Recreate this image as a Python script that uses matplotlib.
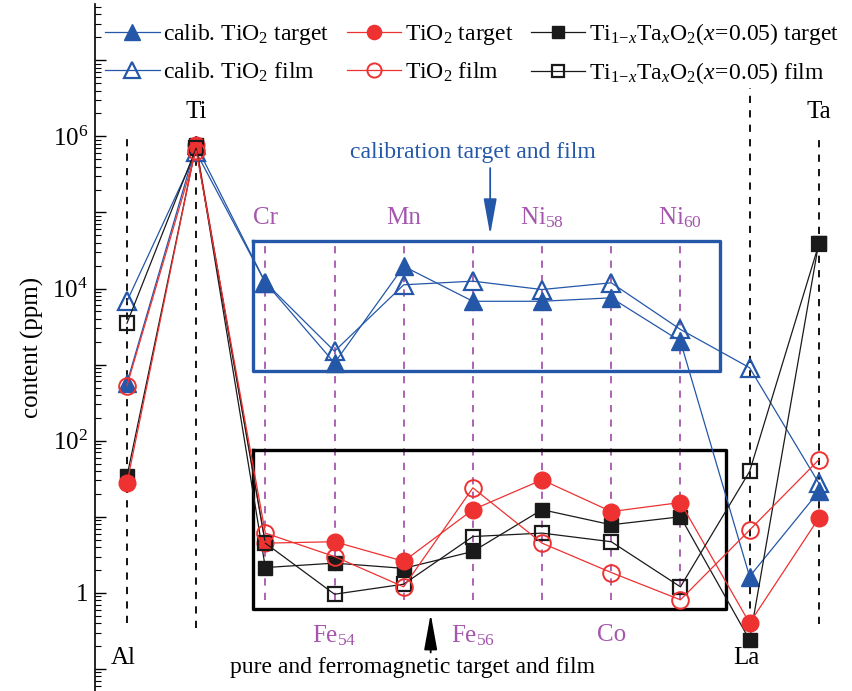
import numpy as np
import matplotlib
matplotlib.use("Agg")
import matplotlib.pyplot as plt
from matplotlib.ticker import LogLocator, FuncFormatter, NullFormatter

plt.rcParams['font.family'] = ['Liberation Serif', 'DejaVu Serif']
plt.rcParams['mathtext.fontset'] = 'custom'
plt.rcParams['mathtext.rm'] = 'Liberation Serif'
plt.rcParams['mathtext.it'] = 'Liberation Serif:italic'
plt.rcParams['mathtext.bf'] = 'Liberation Serif:bold'

# measured contents (ppm), one entry per element
elements = ['Al', 'Ti', 'Cr', 'Fe54', 'Mn', 'Fe56', 'Ni58', 'Co', 'Ni60', 'La', 'Ta']
calib_target = [575, 7.6e5, 12000, 1050, 19600, 6800, 6800, 7550, 2030, 1.64, 21.5]
calib_film = [6800, 6.2e5, 12000, 1500, 11200, 12500, 9700, 11900, 2900, 910, 27.7]
tio2_target = [27.7, 7.6e5, 4.5, 4.7, 2.6, 12.4, 30.6, 11.7, 15.4, 0.40, 9.6]
tio2_film = [530, 6.5e5, 6.1, 3.0, 1.2, 24, 4.5, 1.85, 0.81, 6.7, 56]
tita_target = [34, 7.6e5, 2.15, 2.46, 2.1, 3.5, 12.4, 7.85, 10, 0.24, 40000]
tita_film = [3500, 7.0e5, 4.5, 0.96, 1.3, 5.5, 6.1, 4.7, 1.2, 39.4, 38000]

top_labels = {1: 'Ti', 10: 'Ta'}
bottom_labels = {0: 'Al', 9: 'La'}
purple_top = {2: 'Cr', 4: 'Mn', 6: r'Ni$_{58}$', 8: r'Ni$_{60}$'}
purple_bottom = {3: r'Fe$_{54}$', 5: r'Fe$_{56}$', 7: 'Co'}

BLUE = '#2457a8'
RED = '#ee3131'
PURPLE = '#a557ae'

x = np.arange(len(elements))

fig = plt.figure(figsize=(8.52, 6.91), dpi=100)
ax = fig.add_axes([95 / 852, 0, 1 - 95 / 852, 1 - 4 / 691])
ax.set_yscale('log')
ax.set_xlim(-0.462, 10.48)
ax.set_ylim(10 ** -1.29, 10 ** 7.74)

# guide lines for each element
black_spans = {0: (6.0, -0.4), 1: (6.0, -0.46), 9: (6.64, -0.4), 10: (6.0, -0.41)}
for i, (hi, lo) in black_spans.items():
    ax.plot([i, i], [10 ** lo, 10 ** hi], ls=(0, (4, 4)), color='black', lw=1.3, zorder=1)
for i in range(2, 9):
    ax.plot([i, i], [10 ** -0.09, 10 ** 4.62], ls=(0, (4, 4)), color=PURPLE, lw=1.3, zorder=1)

# highlight boxes
ax.plot([1.82, 8.57, 8.57, 1.82, 1.82],
        [10 ** 4.63, 10 ** 4.63, 10 ** 2.91, 10 ** 2.91, 10 ** 4.63],
        color=BLUE, lw=2.4, zorder=2)
ax.plot([1.82, 8.66, 8.66, 1.82, 1.82],
        [10 ** 1.88, 10 ** 1.88, 10 ** -0.21, 10 ** -0.21, 10 ** 1.88],
        color='black', lw=2.4, zorder=2)

lw = 0.9
h_ct, = ax.plot(x, calib_target, '-^', color=BLUE, lw=lw, ms=13, zorder=3,
                label=r'calib. TiO$_2$ target')
h_cf, = ax.plot(x, calib_film, '-^', color=BLUE, lw=lw, ms=13, mfc='none', mew=1.6, zorder=3,
                label=r'calib. TiO$_2$ film')
h_tt, = ax.plot(x, tita_target, '-s', color='#1a1a1a', lw=lw, ms=10, zorder=4,
                label=r'Ti$_{1\!-\!x}$Ta$_x$O$_2$($x\!=\!0.05$) target')
h_ot, = ax.plot(x, tio2_target, '-o', color=RED, lw=lw, ms=12, zorder=5,
                label=r'TiO$_2$ target')
h_tf, = ax.plot(x, tita_film, '-s', color='#1a1a1a', lw=lw, ms=10, mfc='none', mew=1.6, zorder=6,
                label=r'Ti$_{1\!-\!x}$Ta$_x$O$_2$($x\!=\!0.05$) film')
h_of, = ax.plot(x, tio2_film, '-o', color=RED, lw=lw, ms=12, mfc='none', mew=1.4, zorder=6,
                label=r'TiO$_2$ film')

# element labels
for i, s in top_labels.items():
    ax.text(i, 10 ** 6.32, s, ha='center', va='center', fontsize=18)
for i, s in bottom_labels.items():
    ax.text(i - 0.05, 10 ** -0.86, s, ha='center', va='center', fontsize=18)
for i, s in purple_top.items():
    ax.text(i, 10 ** 4.93, s, ha='center', va='center', fontsize=18, color=PURPLE)
for i, s in purple_bottom.items():
    ax.text(i, 10 ** -0.56, s, ha='center', va='center', fontsize=18, color=PURPLE)

ax.text(5.0, 10 ** 5.79, 'calibration target and film', ha='center', va='center',
        fontsize=17, color=BLUE)
ax.annotate('', xy=(5.25, 10 ** 4.67), xytext=(5.25, 10 ** 5.62),
            arrowprops=dict(arrowstyle='-|>,head_length=1.1,head_width=0.2',
                            color=BLUE, lw=1.3, mutation_scale=20))
ax.text(4.13, 10 ** -0.98, 'pure and ferromagnetic target and film', ha='center', va='center',
        fontsize=17)
ax.annotate('', xy=(4.39, 10 ** -0.24), xytext=(4.39, 10 ** -0.82),
            arrowprops=dict(arrowstyle='-|>,head_length=1.1,head_width=0.2',
                            color='black', lw=1.3, mutation_scale=20))

# axes styling
for side in ['top', 'right', 'bottom']:
    ax.spines[side].set_visible(False)
ax.spines['left'].set_linewidth(1.2)
ax.set_xticks([])
ax.yaxis.set_major_locator(LogLocator(base=10, numticks=20))
ax.yaxis.set_minor_locator(LogLocator(base=10, subs=np.arange(2, 10), numticks=20))
labels = {0: '1', 2: r'$10^2$', 4: r'$10^4$', 6: r'$10^6$'}
ax.yaxis.set_major_formatter(FuncFormatter(
    lambda v, pos: labels.get(int(round(np.log10(v))), '')))
ax.yaxis.set_minor_formatter(NullFormatter())
ax.tick_params(axis='y', which='major', direction='in', length=8, width=1, labelsize=18, pad=5)
ax.tick_params(axis='y', which='minor', direction='in', length=4, width=0.8)
ax.set_ylabel('content (ppm)', fontsize=18, labelpad=6)

handles = [h_ct, h_cf, h_ot, h_of, h_tt, h_tf]
fig.legend(handles=handles, labels=[h.get_label() for h in handles], ncol=3,
           loc='upper left', bbox_to_anchor=(84 / 852, 1.0), frameon=False,
           fontsize=17, handlelength=2.3, columnspacing=0.75, labelspacing=0.55,
           handletextpad=0.15, markerscale=0.85)

fig.savefig('out.png', dpi=100)
